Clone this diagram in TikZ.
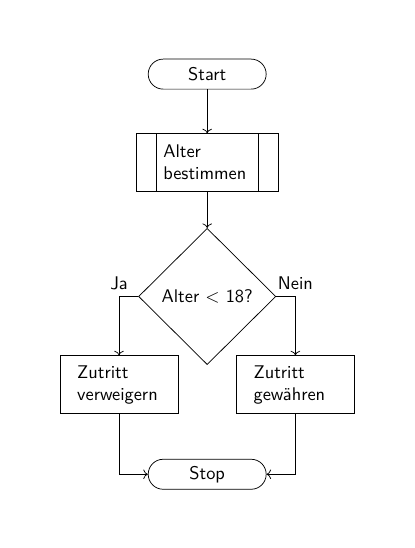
\documentclass[tikz,border=0pt]{standalone}
\usepackage{tikz}
\usetikzlibrary{
  shapes.geometric,
  arrows.meta,
  positioning
}
\tikzset{
terminal/.style={
  draw,
  rectangle,
  rounded corners=2.87mm,
  minimum width=22.6mm,
  minimum height=5.75mm,
  font=\sffamily
},
process/.style={
  draw,
  rectangle,
  minimum width=22.6mm,
  minimum height=11.1mm,
  text width=16mm,
  inner xsep=3.3mm,
  align=left,
  font=\sffamily
},
subprocess/.style={
  draw,
  rectangle,
  minimum width=27.2mm,
  minimum height=11.1mm,
  text width=16.8mm,
  inner xsep=5.2mm,
  align=left,
  font=\sffamily,
  path picture={
    \draw ([xshift=3.85mm]path picture bounding box.north west)
      -- ([xshift=3.85mm]path picture bounding box.south west);
    \draw ([xshift=-3.85mm]path picture bounding box.north east)
      -- ([xshift=-3.85mm]path picture bounding box.south east);
  }
},
decision/.style={
  draw,
  diamond,
  aspect=1,
  inner sep=1pt,
  minimum width=26.3mm,
  minimum height=26.1mm,
  font=\sffamily
},
arrow/.style={
  ->
},
branchlabel/.style={
  font=\sffamily
}
}

\begin{document}
\begin{tikzpicture}
  \useasboundingbox (-39.7mm,14.2mm) rectangle (39.8mm,-90.8mm);

  % Start
  \node[terminal] (start) at (0,0) {Start};

  % Alter bestimmen
  \node[subprocess, below=8.4mm of start] (alter) {Alter\\bestimmen};

  % Entscheidung
  \node[decision, below=6.9mm of alter] (dec) {Alter $<$ 18?};

  % Ergebnisse
  \node[process, xshift=-16.9mm, yshift=-16.9mm] (deny) at (dec) {Zutritt\\verweigern};
  \node[process, xshift=16.9mm, yshift=-16.9mm] (grant) at (dec) {Zutritt\\gew\"ahren};

  % Stop
  \node[terminal, below=18mm of dec] (stop) {Stop};

  % Arrows
  \draw[arrow] (start) -- (alter);
  \draw[arrow] (alter) -- (dec);
  \draw[arrow] (dec.west) -| node[branchlabel, pos=0.5, above] {Ja} (deny.north);
  \draw[arrow] (dec.east) -| node[branchlabel, pos=0.5, above] {Nein} (grant.north);
  \draw[arrow] (deny.south) |- (stop.west);
  \draw[arrow] (grant.south) |- (stop.east);
\end{tikzpicture}
\end{document}
